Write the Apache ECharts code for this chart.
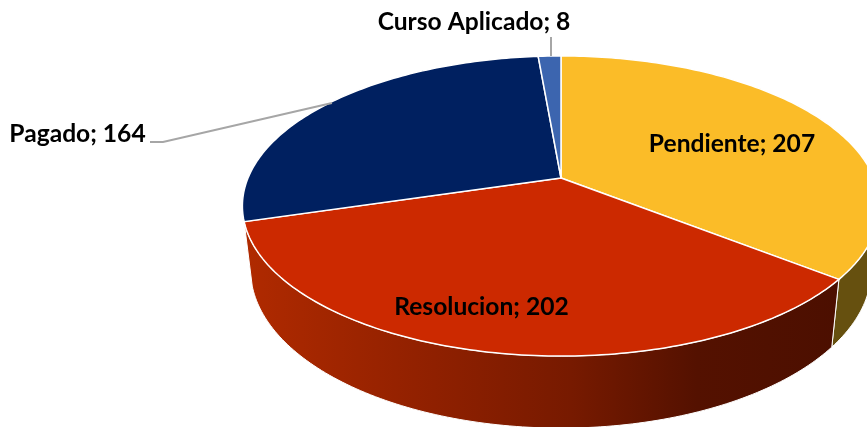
<!DOCTYPE html>
<html>
<head>
<meta charset="utf-8">
<style>
  html, body { margin: 0; padding: 0; background: #fff; }
  #main { width: 867px; height: 427px; }
</style>
<script src="https://cdn.jsdelivr.net/npm/echarts@6/dist/echarts.min.js"></script>
</head>
<body>
<div id="main"></div>
<script>
var sliceNames = ['Pendiente', 'Resolucion', 'Pagado', 'Curso Aplicado'];
var sliceValues = [207, 202, 164, 8];

var topColors = ['#FBBC28', '#CC2900', '#002060', '#3C65AF'];
var wallColors = [
  '#66500F',
  {
    type: 'linear', x: 0, y: 0, x2: 1, y2: 0,
    colorStops: [
      { offset: 0, color: '#B02A00' },
      { offset: 0.32, color: '#8F2000' },
      { offset: 0.55, color: '#771A00' },
      { offset: 0.76, color: '#541100' },
      { offset: 1, color: '#4C0F00' }
    ]
  },
  null,
  null
];

// the pie is a circle seen in perspective: one projection for the top face, one for the bottom
var topFace = { cx: 561, cy: 178, a: 313, b: 144.8, k: 0.1867 };
var bottomFace = { cx: 561, cy: 240, a: 305, b: 153, k: 0.1867 };

var labelBoxes = [
  { x: 732, y: 144.5 },
  { x: 481.5, y: 307.5 },
  { x: 77.5, y: 134.5 },
  { x: 474, y: 22.5 }
];
var leaderLines = [
  null,
  null,
  [[150, 142], [163, 142], [332, 103]],
  [[551, 37], [551, 56]]
];

var total = sliceValues.reduce(function (s, v) { return s + v; }, 0);

function project (face, deg) {
  var rad = deg * Math.PI / 180;
  var u = Math.sin(rad);
  var v = -Math.cos(rad);
  var w = 1 - face.k * v;
  return [face.cx + face.a * u / w, face.cy + face.b * v / w];
}

function rim (face, from, to) {
  var pts = [];
  var steps = Math.max(2, Math.ceil(Math.abs(to - from)));
  for (var i = 0; i <= steps; i++) {
    pts.push(project(face, from + (to - from) * i / steps));
  }
  return pts;
}

function renderSlice (params, api) {
  var i = params.dataIndex;
  var before = 0;
  for (var n = 0; n < i; n++) before += sliceValues[n];
  var start = before / total * 360;
  var end = (before + api.value(0)) / total * 360;
  var children = [];

  if (wallColors[i]) {
    children.push({
      type: 'polygon',
      z2: 1,
      shape: { points: rim(topFace, start, end).concat(rim(bottomFace, end, start)) },
      style: { fill: wallColors[i], stroke: '#fff', lineWidth: 1 }
    });
  }

  children.push({
    type: 'polygon',
    z2: 2,
    shape: { points: [[topFace.cx, topFace.cy]].concat(rim(topFace, start, end)) },
    style: { fill: topColors[i], stroke: '#fff', lineWidth: 1.5 }
  });

  if (leaderLines[i]) {
    children.push({
      type: 'polyline',
      z2: 3,
      shape: { points: leaderLines[i] },
      style: { fill: 'none', stroke: '#A6A6A6', lineWidth: 2 }
    });
  }

  children.push({
    type: 'text',
    z2: 4,
    x: labelBoxes[i].x,
    y: labelBoxes[i].y,
    style: {
      text: sliceNames[i] + '; ' + api.value(0),
      fill: '#000',
      font: 'bold 24.6px Lato, "Open Sans", sans-serif',
      align: 'center',
      verticalAlign: 'middle'
    }
  });

  return { type: 'group', children: children };
}

var myChart = echarts.init(document.getElementById('main'), null, { renderer: 'canvas' });

var option = {
  animation: false,
  backgroundColor: '#fff',
  series: [{
    type: 'custom',
    coordinateSystem: 'none',
    silent: true,
    clip: false,
    data: sliceValues,
    renderItem: renderSlice
  }]
};

myChart.setOption(option);
</script>
</body>
</html>
